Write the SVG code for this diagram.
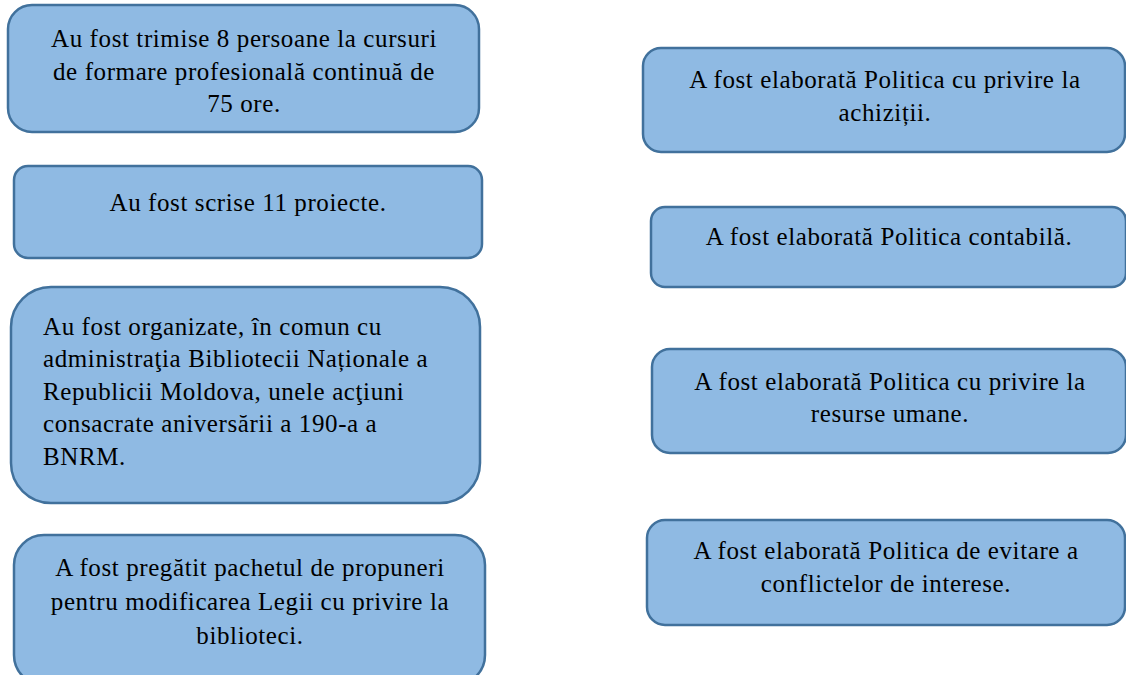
<svg xmlns="http://www.w3.org/2000/svg" width="1126" height="675" viewBox="0 0 1126 675">
<style>
.box{fill:#8FBAE3;stroke:#41719C;stroke-width:2.5}
.t{font-family:"Liberation Serif","Times New Roman",serif;font-size:25px;letter-spacing:0.6px;fill:#000}
.c{text-anchor:middle}
</style>
<rect width="1126" height="675" fill="#fff"/>
<g id="connectors"></g>
<g id="n1"><rect class="box" x="8" y="5" width="471" height="127" rx="24"/>
<text class="t c"><tspan x="244" y="47">Au fost trimise 8 persoane la cursuri</tspan><tspan x="244" y="80">de formare profesională continuă de</tspan><tspan x="244" y="112">75 ore.</tspan></text></g>
<g id="n2"><rect class="box" x="14" y="166" width="468" height="92" rx="14"/>
<text class="t c" x="248" y="211">Au fost scrise 11 proiecte.</text></g>
<g id="n3"><rect class="box" x="11" y="287" width="469" height="216" rx="40"/>
<text class="t"><tspan x="43" y="335">Au fost organizate, în comun cu</tspan><tspan x="43" y="367">administraţia Bibliotecii Naționale a</tspan><tspan x="43" y="400">Republicii Moldova, unele acţiuni</tspan><tspan x="43" y="432">consacrate aniversării a 190-a a</tspan><tspan x="43" y="465">BNRM.</tspan></text></g>
<g id="n4"><rect class="box" x="14" y="535" width="471" height="150" rx="30"/>
<text class="t c"><tspan x="250" y="576">A fost pregătit pachetul de propuneri</tspan><tspan x="250" y="610">pentru modificarea Legii cu privire la</tspan><tspan x="250" y="644">biblioteci.</tspan></text></g>
<g id="n5"><rect class="box" x="643" y="48" width="482" height="104" rx="18"/>
<text class="t c"><tspan x="885" y="88">A fost elaborată Politica cu privire la</tspan><tspan x="885" y="121">achiziții.</tspan></text></g>
<g id="n6"><rect class="box" x="651" y="207" width="475" height="80" rx="14"/>
<text class="t c" x="889" y="245">A fost elaborată Politica contabilă.</text></g>
<g id="n7"><rect class="box" x="652" y="349" width="474" height="104" rx="18"/>
<text class="t c"><tspan x="890" y="390">A fost elaborată Politica cu privire la</tspan><tspan x="890" y="422">resurse umane.</tspan></text></g>
<g id="n8"><rect class="box" x="647" y="520" width="478" height="105" rx="18"/>
<text class="t c"><tspan x="886" y="559">A fost elaborată Politica de evitare a</tspan><tspan x="886" y="592">conflictelor de interese.</tspan></text></g>
</svg>
